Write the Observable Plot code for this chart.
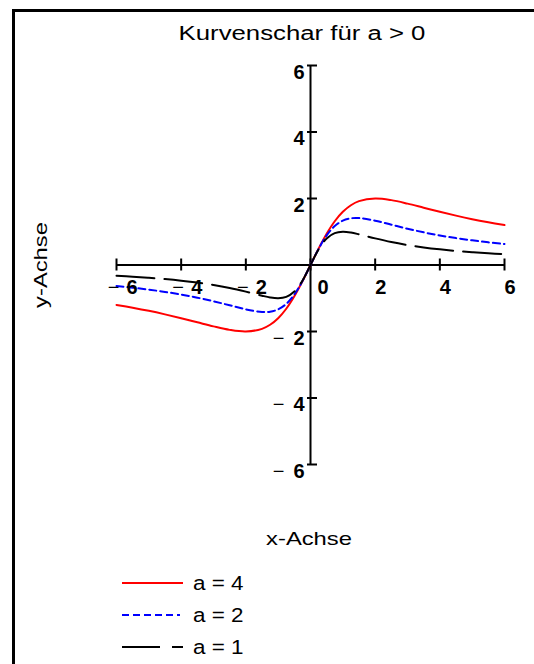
<!DOCTYPE html>
<html><head><meta charset="utf-8">
<script src="https://cdn.jsdelivr.net/npm/d3@7"></script>
<script src="https://cdn.jsdelivr.net/npm/@observablehq/plot@0.6"></script>
<style>
html,body{margin:0;padding:0;background:#fff;overflow:hidden;width:534px;height:664px;font-family:"Liberation Sans",Arial,sans-serif;}
#wrap{position:relative;width:534px;height:664px;overflow:hidden;}
.t{position:absolute;white-space:nowrap;font-size:19px;color:#000;line-height:1;}
</style></head><body>
<div id="wrap"><div id="chart" style="position:absolute;left:0;top:0"></div>
<div class="t" id="title" style="left:302px;top:24px;font-size:19.5px;transform:translateX(-50%) scaleX(1.32)">Kurvenschar für a &gt; 0</div>
<div class="t" style="left:309px;top:529px;transform:translateX(-50%) scaleX(1.25)">x-Achse</div>
<div class="t" style="left:40px;top:265px;transform:translate(-50%,-50%) rotate(-90deg) scaleX(1.25)">y-Achse</div>
<svg id="legend" width="534" height="664" style="position:absolute;left:0;top:0;pointer-events:none"></svg>
</div>
<script>
const xs = [-6,-5.5,-5,-4.5,-4,-3.5,-3,-2.5,-2,-1.5,-1.25,-1,-0.75,-0.5,-0.25,0,0.25,0.5,0.75,1,1.25,1.5,2,2.5,3,3.5,4,4.5,5,5.5,6];
const yA4 = [-1.2,-1.285,-1.379,-1.485,-1.6,-1.723,-1.846,-1.951,-2.0,-1.92,-1.798,-1.6,-1.315,-0.941,-0.492,0,0.492,0.941,1.315,1.6,1.798,1.92,2.0,1.951,1.846,1.723,1.6,1.485,1.379,1.285,1.2];
const yA2 = [-0.632,-0.682,-0.741,-0.809,-0.889,-0.982,-1.091,-1.212,-1.333,-1.412,-1.404,-1.333,-1.171,-0.889,-0.485,0,0.485,0.889,1.171,1.333,1.404,1.412,1.333,1.212,1.091,0.982,0.889,0.809,0.741,0.682,0.632];
const yA1 = [-0.324,-0.352,-0.385,-0.424,-0.471,-0.528,-0.6,-0.69,-0.8,-0.923,-0.976,-1,-0.96,-0.8,-0.471,0,0.471,0.8,0.96,1,0.976,0.923,0.8,0.69,0.6,0.528,0.471,0.424,0.385,0.352,0.324];
const seriesNames = ["a = 4","a = 2","a = 1"];
const seriesColors = ["#ff0000","#0000ff","#000000"];
const seriesDash = [null,"7,4","38,10"];
const legendDash = [null,"7,4","38,12"];
const xTicks = [-6,-4,-2,0,2,4,6];
const yTicks = [-6,-4,-2,2,4,6];

const mk = (ys) => xs.map((x,i)=>({x, y: ys[i]}));
const d4 = mk(yA4), d2 = mk(yA2), d1 = mk(yA1);

const fmt = d => String(Math.abs(d));
const neg = a => a.filter(d => d < 0);
const chart = Plot.plot({
  width: 534, height: 664,
  marginLeft: 116, marginRight: 30, marginTop: 65, marginBottom: 200,
  x: {domain: [-6,6], axis: null},
  y: {domain: [-6,6], axis: null},
  style: {fontFamily: '"Liberation Sans", Arial, sans-serif', background: "transparent"},
  marks: [
    Plot.ruleY([0], {x1: -6, x2: 6, stroke: "#000", strokeWidth: 2}),
    Plot.ruleX([0], {y1: -6, y2: 6, stroke: "#000", strokeWidth: 2}),
    Plot.ruleX(xTicks, {x: d=>d, y1: 0, y2: 0, insetTop: -6, insetBottom: -6, stroke: "#000", strokeWidth: 2}),
    Plot.ruleY(yTicks, {y: d=>d, x1: 0, x2: 0, insetLeft: -3, insetRight: -7, stroke: "#000", strokeWidth: 2}),
    Plot.line(d4, {x: "x", y: "y", stroke: seriesColors[0], strokeWidth: 2, curve: "catmull-rom"}),
    Plot.line(d2, {x: "x", y: "y", stroke: seriesColors[1], strokeWidth: 2, strokeDasharray: seriesDash[1], curve: "catmull-rom"}),
    Plot.line(d1, {x: "x", y: "y", stroke: seriesColors[2], strokeWidth: 2, strokeDasharray: seriesDash[2], curve: "catmull-rom"}),
    Plot.text(xTicks.filter(d=>d>0), {x: d=>d, y: 0, text: fmt, textAnchor: "start", lineAnchor: "top", dy: 15, fontSize: 20, fontWeight: "bold", fill: "#000"}),
    Plot.text([0], {x: d=>d, y: 0, text: fmt, textAnchor: "start", lineAnchor: "top", dy: 15, dx: 7, fontSize: 20, fontWeight: "bold", fill: "#000"}),
    Plot.text(neg(xTicks), {x: d=>d, y: 0, text: fmt, textAnchor: "start", lineAnchor: "top", dy: 15, dx: 10, fontSize: 20, fontWeight: "bold", fill: "#000"}),
    Plot.text(neg(xTicks), {x: d=>d, y: 0, text: () => "\u2212", textAnchor: "middle", lineAnchor: "top", dy: 15, dx: -3, fontSize: 20, fill: "#000"}),
    Plot.text(yTicks, {x: 0, y: d=>d, text: fmt, textAnchor: "end", lineAnchor: "top", dx: -6, dy: -1, fontSize: 20, fontWeight: "bold", fill: "#000"}),
    Plot.text(neg(yTicks), {x: 0, y: d=>d, text: () => "\u2212", textAnchor: "middle", lineAnchor: "top", dx: -32, dy: -1, fontSize: 20, fill: "#000"}),
  ]
});
document.getElementById("chart").appendChild(chart);

const lg = d3.select("#legend");
lg.append("path").attr("d", "M13.5,700 V10.5 H560").attr("fill", "none").attr("stroke", "#000").attr("stroke-width", 3);
const ly = [583, 615, 647];
seriesNames.forEach((name, i) => {
  const ln = lg.append("line").attr("x1", 122).attr("x2", i === 1 ? 180 : 183).attr("y1", ly[i]).attr("y2", ly[i])
    .attr("stroke", seriesColors[i]).attr("stroke-width", 2);
  if (legendDash[i]) ln.attr("stroke-dasharray", legendDash[i]);
  lg.append("text").attr("x", 193).attr("y", ly[i] + 7).attr("font-size", 19.5)
    .attr("font-family", '"Liberation Sans", Arial, sans-serif')
    .attr("transform", `translate(193,0) scale(1.15,1) translate(-193,0)`)
    .text(name);
});
</script>
</body></html>
